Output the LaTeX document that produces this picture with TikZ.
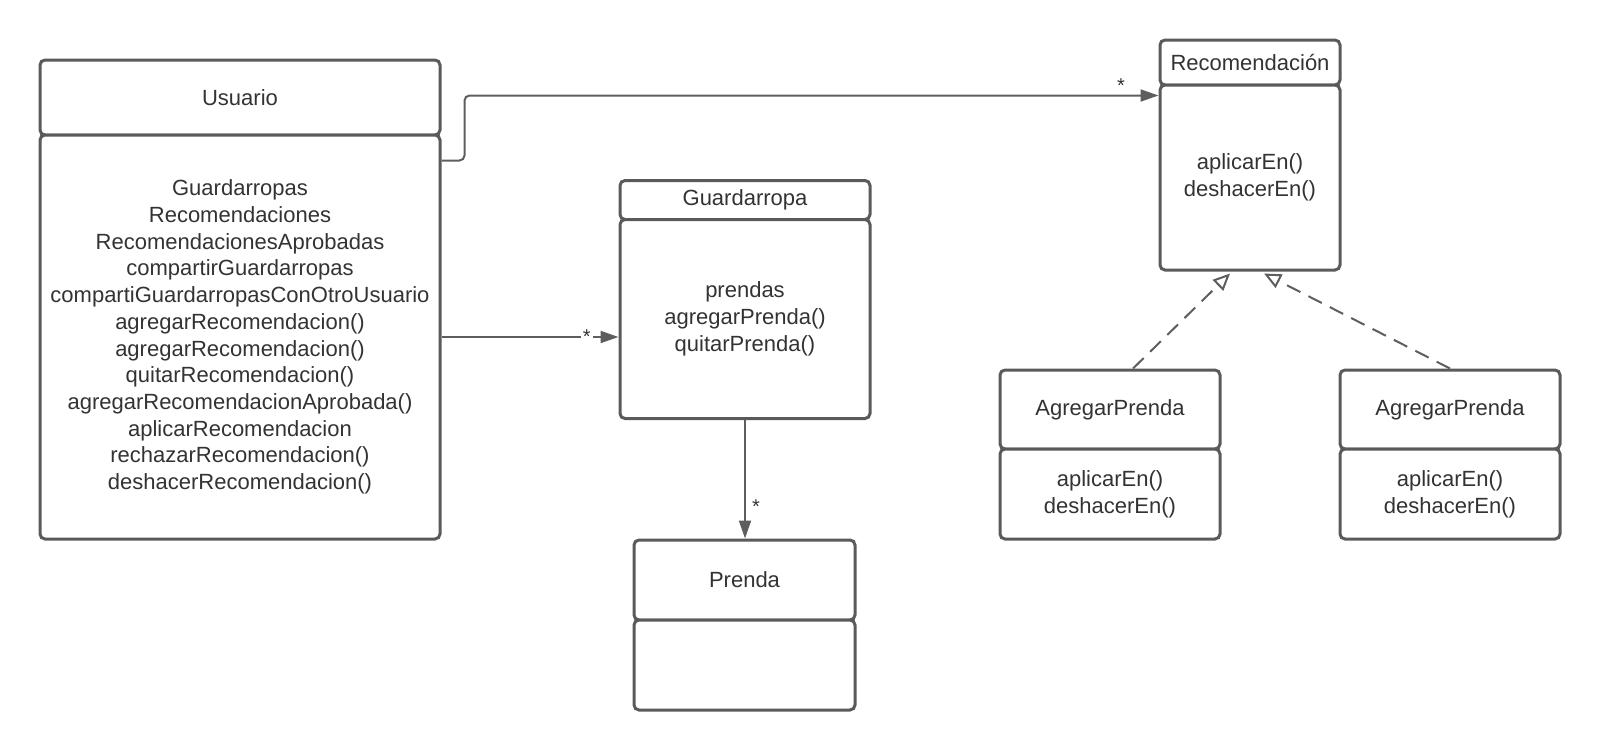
\documentclass[tikz,border=0pt]{standalone}
\usepackage{fontspec}
\setmainfont{Liberation Sans}
\usetikzlibrary{arrows.meta,calc}
\definecolor{boxc}{HTML}{5A5A5A}
\definecolor{linec}{HTML}{5E5E5E}
\definecolor{txtc}{HTML}{333333}
\newcommand\clsfont{\fontsize{22}{26.7}\selectfont}
\newcommand\starfont{\fontsize{20}{22}\selectfont}
\tikzset{
  cls/.style={draw=boxc, line width=3pt, rounded corners=5pt, fill=white,
    align=center, text=txtc, inner sep=0pt, font=\clsfont},
  conn/.style={draw=linec, line width=2pt},
  assoc/.style={conn, -{Triangle[length=18pt, width=12pt]}},
  realize/.style={conn, dash pattern=on 15pt off 9pt,
    -{Triangle[open, length=17pt, width=15pt]}},
  mult/.style={font=\starfont, text=txtc, inner sep=2pt},
}
\begin{document}
\begin{tikzpicture}[x=1pt, y=-1pt]
\useasboundingbox (0,0) rectangle (1601,750);
% Usuario
\node[cls, minimum width=400pt, minimum height=75pt] (usuH) at (240,97.5) {Usuario};
\node[cls, minimum width=400pt, minimum height=404pt] (usuB) at (240,337) {Guardarropas\\Recomendaciones\\RecomendacionesAprobadas\\compartirGuardarropas\\compartiGuardarropasConOtroUsuario\\agregarRecomendacion()\\agregarRecomendacion()\\quitarRecomendacion()\\agregarRecomendacionAprobada()\\aplicarRecomendacion\\rechazarRecomendacion()\\deshacerRecomendacion()};
% Guardarropa
\node[cls, minimum width=250pt, minimum height=39pt] (guaH) at (745,200) {Guardarropa};
\node[cls, minimum width=250pt, minimum height=199pt] (guaB) at (745,319) {prendas\\agregarPrenda()\\quitarPrenda()};
% Prenda
\node[cls, minimum width=221pt, minimum height=80pt] (preH) at (744.5,580) {Prenda};
\node[cls, minimum width=221pt, minimum height=90pt] (preB) at (744.5,665) {};
% Recomendacion
\node[cls, minimum width=180pt, minimum height=45pt] (recH) at (1250,62.5) {Recomendación};
\node[cls, minimum width=180pt, minimum height=185pt] (recB) at (1250,177.5) {aplicarEn()\\deshacerEn()};
% AgregarPrenda 1
\node[cls, minimum width=220pt, minimum height=79pt] (apaH) at (1110,409.5) {AgregarPrenda};
\node[cls, minimum width=220pt, minimum height=90pt] (apaB) at (1110,494) {aplicarEn()\\deshacerEn()};
% AgregarPrenda 2
\node[cls, minimum width=220pt, minimum height=79pt] (apbH) at (1450,409.5) {AgregarPrenda};
\node[cls, minimum width=220pt, minimum height=90pt] (apbB) at (1450,494) {aplicarEn()\\deshacerEn()};
% connectors
\draw[assoc] (usuB.east) -- (usuB.east -| guaB.west)
  node[mult, pos=0.82, fill=white] {*};
\draw[assoc] (guaB.south) -- (guaB.south |- preH.north)
  node[mult, pos=0.73, right=4pt] {*};
\coordinate (uStart) at ($(usuB.north east)+(0,27)$);
\coordinate (rEnd) at ($(recB.north west)+(0,12)$);
\draw[assoc, rounded corners=5pt] (uStart) -- ++(23,0) |- (rEnd)
  node[mult, pos=0.973, above=0pt] {*};
\draw[realize] ($(apaH.north)+(23,0)$) -- ($(recB.south)+(-20,2)$);
\draw[realize] (apbH.north) -- ($(recB.south)+(14,2)$);
\end{tikzpicture}
\end{document}
